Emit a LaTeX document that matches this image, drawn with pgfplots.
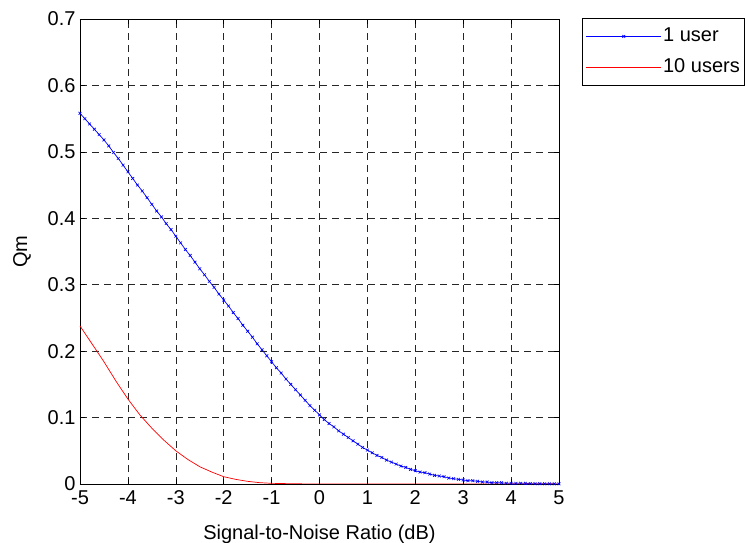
\documentclass[border=0pt]{standalone}
\usepackage{fontspec}
\setmainfont{Liberation Sans}
\usepackage{pgfplots}
\pgfplotsset{compat=1.18}
\pgfplotstableread{
x y
-5.0 0.558
-4.9 0.550
-4.8 0.542
-4.7 0.534
-4.6 0.526
-4.5 0.518
-4.4 0.509
-4.3 0.499
-4.2 0.490
-4.1 0.480
-4.0 0.470
-3.9 0.460
-3.8 0.450
-3.7 0.441
-3.6 0.431
-3.5 0.421
-3.4 0.411
-3.3 0.402
-3.2 0.392
-3.1 0.383
-3.0 0.373
-2.9 0.363
-2.8 0.353
-2.7 0.344
-2.6 0.334
-2.5 0.324
-2.4 0.315
-2.3 0.305
-2.2 0.296
-2.1 0.286
-2.0 0.277
-1.9 0.268
-1.8 0.258
-1.7 0.249
-1.6 0.239
-1.5 0.230
-1.4 0.221
-1.3 0.211
-1.2 0.202
-1.1 0.193
-1.0 0.184
-0.9 0.175
-0.8 0.167
-0.7 0.158
-0.6 0.150
-0.5 0.142
-0.4 0.134
-0.3 0.126
-0.2 0.118
-0.1 0.111
0.0 0.104
0.1 0.097
0.2 0.091
0.3 0.086
0.4 0.080
0.5 0.075
0.6 0.070
0.7 0.065
0.8 0.060
0.9 0.055
1.0 0.051
1.1 0.047
1.2 0.043
1.3 0.040
1.4 0.036
1.5 0.033
1.6 0.030
1.7 0.027
1.8 0.025
1.9 0.022
2.0 0.020
2.1 0.018
2.2 0.017
2.3 0.015
2.4 0.013
2.5 0.012
2.6 0.011
2.7 0.009
2.8 0.008
2.9 0.007
3.0 0.006
3.1 0.005
3.2 0.005
3.3 0.004
3.4 0.003
3.5 0.003
3.6 0.002
3.7 0.002
3.8 0.002
3.9 0.001
4.0 0.001
4.1 0.001
4.2 0.001
4.3 0.001
4.4 0.0006
4.5 0.0005
4.6 0.0004
4.7 0.0003
4.8 0.0003
4.9 0.0002
5.0 0.0002
}\oneuser
\pgfplotstableread{
x y
-5.00 0.238
-4.75 0.211
-4.50 0.184
-4.25 0.155
-4.00 0.128
-3.75 0.104
-3.50 0.084
-3.25 0.066
-3.00 0.050
-2.75 0.037
-2.50 0.026
-2.25 0.018
-2.00 0.011
-1.75 0.007
-1.50 0.004
-1.25 0.002
-1.00 0.001
-0.50 0.0003
0.00 0.0
5.00 0.0
}\tenusers
\begin{document}
\begin{tikzpicture}
\useasboundingbox (-80pt,-59pt) rectangle (668pt,484pt);
\begin{axis}[
  at={(0pt,0pt)}, anchor=south west,
  scale only axis, width=479pt, height=465pt,
  xmin=-5, xmax=5, ymin=0, ymax=0.7,
  xtick={-5,-4,-3,-2,-1,0,1,2,3,4,5},
  xticklabels={-5,-4,-3,-2,-1,0,1,2,3,4,5},
  ytick={0,0.1,0.2,0.3,0.4,0.5,0.6,0.7},
  yticklabels={0,0.1,0.2,0.3,0.4,0.5,0.6,0.7},
  tick align=inside, major tick length=5pt,
  tick style={black, line width=0.6pt},
  axis line style={black, line width=0.8pt},
  grid=major,
  major grid style={black!85, line width=0.6pt, dash pattern=on 7pt off 5pt},
  tick label style={font=\fontsize{20}{24}\selectfont},
  xticklabel style={yshift=-3pt},
  yticklabel style={xshift=-1pt},
  label style={font=\fontsize{20}{24}\selectfont},
  xlabel={Signal-to-Noise Ratio (dB)},
  ylabel={Qm},
  xlabel style={at={(axis description cs:0.5,0)}, anchor=center, yshift=-50pt},
  ylabel style={at={(axis description cs:-0.121,0.5)}, anchor=center},
  legend cell align=left,
  legend style={at={(axis description cs:1,1)}, anchor=north west, xshift=23pt, yshift=1pt,
    draw=black, line width=0.8pt, inner xsep=3pt, inner ysep=2.5pt,
    font=\fontsize{20}{24}\selectfont,
    nodes={text height=15pt, text depth=5pt, inner ysep=5.5pt}},
  legend image code/.code={\path (0pt,0pt) -- (75pt,0pt);\draw[mark repeat=2, mark phase=2, #1] plot coordinates {(6pt,0pt) (38pt,0pt) (70pt,0pt)};},
]
\addplot[blue, line width=0.7pt, mark=x, mark size=2pt, mark options={line width=0.6pt}] table[x=x,y=y] {\oneuser};
\addlegendentry{1 user}
\addplot[red, line width=0.7pt] table[x=x,y=y] {\tenusers};
\addlegendentry{10 users}
\end{axis}
\end{tikzpicture}
\end{document}
